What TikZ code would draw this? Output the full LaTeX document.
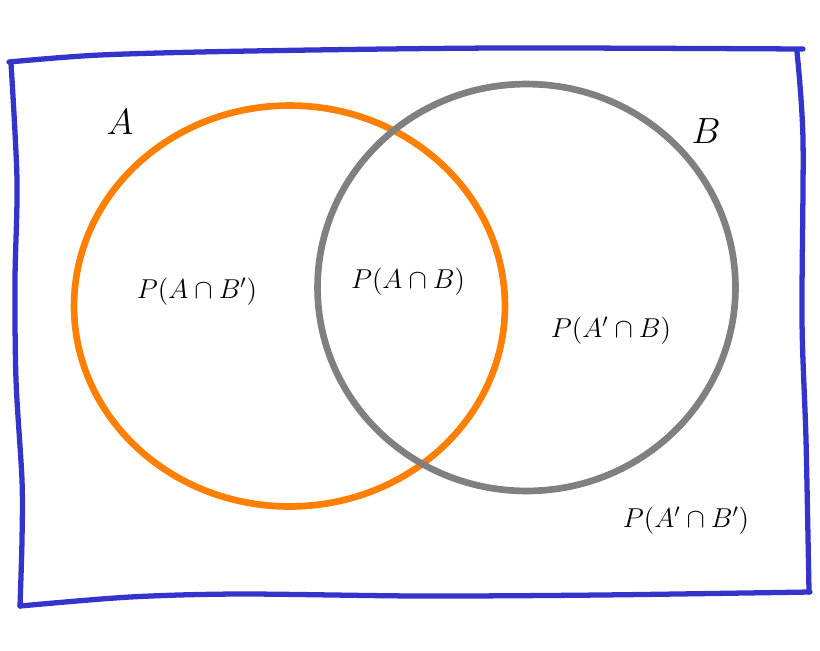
\documentclass[tikz,border=0pt]{standalone}
\usepackage{amsmath}
\usepackage{amssymb}
\usetikzlibrary{shapes.geometric}

\definecolor{setorange}{RGB}{255,128,0}
\definecolor{setgray}{RGB}{128,128,128}
\definecolor{frameblue}{RGB}{52,52,204}

\newcommand{\probtext}[1]{\scalebox{1.08}{$#1$}}

\tikzset{
  frame/.style={draw=frameblue,line width=3pt,line cap=round,line join=round},
  setA/.style={ellipse,draw=setorange,line width=3.8pt,minimum width=8.62cm,minimum height=8.02cm},
  setB/.style={ellipse,draw=setgray,line width=3.8pt,minimum width=8.36cm,minimum height=8.14cm},
  setname/.style={font=\fontsize{21}{25}\selectfont},
  prob/.style={font=\fontsize{14.4}{17}\selectfont}
}

\begin{document}
\begin{tikzpicture}[x=0.02cm,y=-0.02cm]
  \useasboundingbox (0,0) rectangle (820,650);
  \draw[frame] plot[smooth] coordinates {(9,62) (100,55) (250,51) (500,48) (803,49)};
  \draw[frame] plot[smooth] coordinates {(797,52) (803,140) (802,320) (806,440) (809,592)};
  \draw[frame] plot[smooth] coordinates {(810,592) (600,595) (420,596) (240,594) (130,597) (20,606)};
  \draw[frame] plot[smooth] coordinates {(20,606) (22,540) (22,480) (16,380) (15,280) (17,180) (11,63)};
  \node[setA]           (a)  at (289.5,306)  {};
  \node[setB]           (b)  at (526.5,287.5) {};
  \node[setname]        (la) at (120,122)    {$A$};
  \node[setname]        (lb) at (706,131)    {$B$};
  \node[prob]           (p1) at (197,292)    {\probtext{P(A\cap B')}};
  \node[prob]           (p2) at (408,282)    {\probtext{P(A\cap B)}};
  \node[prob]           (p3) at (611,331)    {\probtext{P(A'\cap B)}};
  \node[prob]           (p4) at (686,521)    {\probtext{P(A'\cap B')}};
\end{tikzpicture}
\end{document}
